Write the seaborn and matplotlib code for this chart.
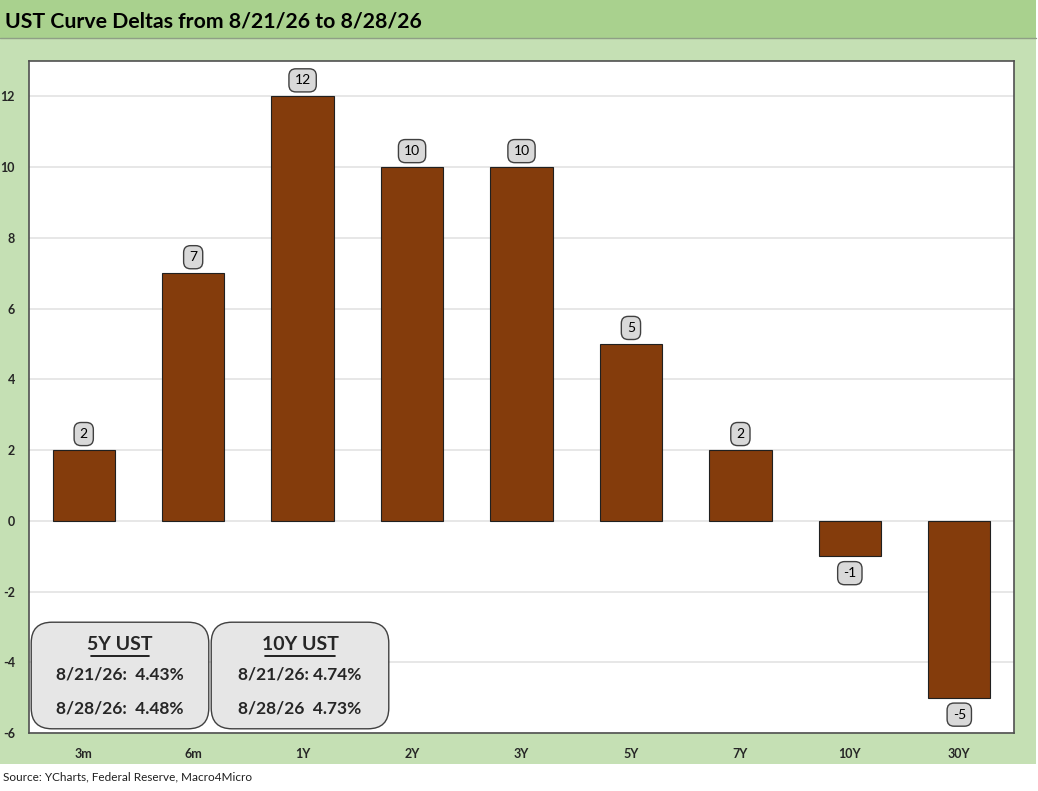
import matplotlib
matplotlib.use("Agg")
import matplotlib.pyplot as plt
import seaborn as sns
import pandas as pd
from matplotlib.patches import Rectangle, FancyBboxPatch

OUTPUT_IMAGE = 'out.png'

tenors = ['3m', '6m', '1Y', '2Y', '3Y', '5Y', '7Y', '10Y', '30Y']
deltas = [2, 7, 12, 10, 10, 5, 2, -1, -5]

title = 'UST Curve Deltas from 8/21/26 to 8/28/26'
source = 'Source: YCharts, Federal Reserve, Macro4Micro'
box_titles = ['5Y UST', '10Y UST']
box_lines = [['8/21/26:  4.43%', '8/28/26:  4.48%'],
             ['8/21/26: 4.74%', '8/28/26  4.73%']]

W, H = 1038, 791


def fx(x):
    return x / W


def fy(y):
    return 1 - y / H


sns.set_theme(style='white')
plt.rcParams['font.family'] = ['Lato', 'DejaVu Sans']
plt.rcParams['axes.unicode_minus'] = False

fig = plt.figure(figsize=(W / 100, H / 100), dpi=100)
fig.patch.set_facecolor('white')

# background bands
fig.patches.append(Rectangle((0, fy(764)), fx(1036), (764 - 38) / H,
                             transform=fig.transFigure, facecolor='#c5e0b4',
                             edgecolor='none', zorder=-10))
fig.patches.append(Rectangle((0, fy(38)), fx(1036), 38 / H,
                             transform=fig.transFigure, facecolor='#a9d18e',
                             edgecolor='none', zorder=-10))
fig.lines.append(plt.Line2D([0, fx(1036)], [fy(38), fy(38)],
                            transform=fig.transFigure, color='#8f9f86',
                            linewidth=1.0, zorder=-9))

ax = fig.add_axes([fx(29), fy(733), (1014 - 29) / W, (733 - 61) / H])
ax.set_zorder(1)
ax.set_facecolor('white')

df = pd.DataFrame({'tenor': tenors, 'delta': deltas})
sns.barplot(data=df, x='tenor', y='delta', color='#843c0c', saturation=1,
            edgecolor='#202020', linewidth=0.8, width=0.57, ax=ax, zorder=3)

ax.set_ylim(-6, 13)
ax.set_xlim(-0.5, len(tenors) - 0.5)
ax.set_yticks(range(-6, 13, 2))
ax.yaxis.grid(True, color='#e3e3e3', linewidth=1.2, zorder=0)
ax.set_axisbelow(True)
ax.set_xlabel('')
ax.set_ylabel('')
ax.tick_params(axis='both', length=0, labelsize=9)
ax.tick_params(axis='y', pad=10)
ax.tick_params(axis='x', pad=11)
for lab in ax.get_xticklabels() + ax.get_yticklabels():
    lab.set_fontweight('bold')
for sp in ax.spines.values():
    sp.set_color('#505050')
    sp.set_linewidth(1.2)

for i, v in enumerate(deltas):
    off = 16 if v >= 0 else -17
    ax.annotate(str(v), (i, v), xytext=(0, off), textcoords='offset pixels',
                ha='center', va='center', fontsize=10, color='black',
                bbox=dict(boxstyle='round,pad=0.4,rounding_size=0.5',
                          facecolor='#d9d9d9', edgecolor='#404040', linewidth=1),
                zorder=5)

# info boxes
for k, (bt, lines) in enumerate(zip(box_titles, box_lines)):
    x0 = 31 + k * 180
    fig.patches.append(FancyBboxPatch((fx(x0 + 8), fy(729 - 8)), fx(178 - 16),
                                      (107 - 16) / H,
                                      boxstyle='round,pad=0.0075,rounding_size=0.02',
                                      transform=fig.transFigure,
                                      facecolor='#e6e6e6', edgecolor='#404040',
                                      linewidth=1.0, zorder=10,
                                      mutation_aspect=W / H))
    cx = fx(x0 + 89)
    fig.text(cx, fy(645), bt, ha='center', va='center', fontsize=14,
             fontweight='bold', zorder=11)
    fig.text(cx, fy(674), lines[0], ha='center', va='center', fontsize=12.5,
             fontweight='bold', zorder=11)
    fig.text(cx, fy(709), lines[1], ha='center', va='center', fontsize=12.5,
             fontweight='bold', zorder=11)
    # underline for box title
    uw = 58 if k == 0 else 70
    fig.lines.append(plt.Line2D([fx(x0 + 89 - uw / 2), fx(x0 + 89 + uw / 2)],
                                [fy(656), fy(656)], transform=fig.transFigure,
                                color='black', linewidth=1.2, zorder=11))

fig.text(fx(5), fy(22), title, ha='left', va='center', fontsize=15.3,
         fontweight='bold', color='black')
fig.text(fx(3), fy(777), source, ha='left', va='center', fontsize=8.5,
         color='#202020')

fig.savefig(OUTPUT_IMAGE, dpi=100)
